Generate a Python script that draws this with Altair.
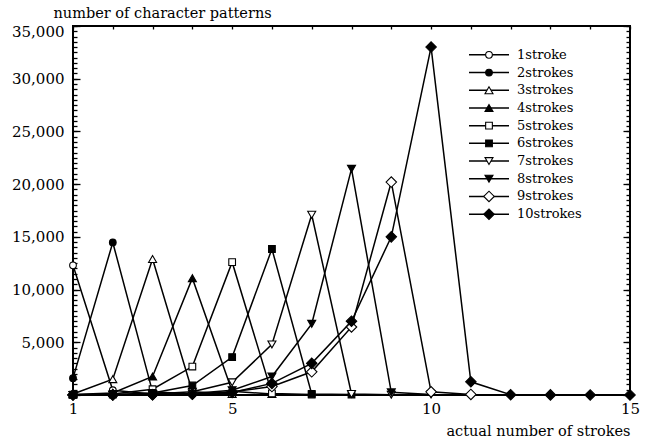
import altair as alt
import pandas as pd

# ---------------- data ----------------
names = ["1stroke", "2strokes", "3strokes", "4strokes", "5strokes",
         "6strokes", "7strokes", "8strokes", "9strokes", "10strokes"]

s1 = [12300, 450, 100]
s2 = [1600, 14470, 300, 100]
s3 = [100, 1500, 12900, 300, 100]
s4 = [50, 200, 1750, 11080, 350, 100]
s5 = [30, 100, 550, 2700, 12600, 150, 50]
s6 = [20, 50, 200, 900, 3600, 13850, 100, 50]
s7 = [10, 30, 100, 300, 1200, 4800, 17100, 100, 30]
s8 = [10, 20, 50, 150, 450, 1750, 6750, 21450, 250, 50]
s9 = [5, 10, 30, 100, 300, 800, 2200, 6450, 20200, 300, 50]
s10 = [5, 10, 30, 80, 250, 1100, 3000, 7000, 15000, 33000, 1250, 30, 10, 5, 5]
series_values = [s1, s2, s3, s4, s5, s6, s7, s8, s9, s10]

shapes = ["circle", "circle", "triangle-up", "triangle-up", "square", "square",
          "triangle-down", "triangle-down", "diamond", "diamond"]
fills = ["white", "black"] * 5
sizes = [45, 45, 64, 64, 45, 45, 64, 64, 110, 110]

x_label_values = [1, 5, 10, 15]
x_tick_values = list(range(1, 16))
y_label_values = [5000, 10000, 15000, 20000, 25000, 30000]
y_top_label = [35000]
y_major_values = list(range(0, 35001, 5000))
y_minor_values = list(range(0, 35001, 500))

rows = []
for name, vals in zip(names, series_values):
    for i, v in enumerate(vals):
        rows.append({"series": name, "x": i + 1, "count": v})
df = pd.DataFrame(rows)
leg_df = pd.DataFrame({"series": names})

FONT = "DejaVu Serif"
W, H = 557, 369

xscale = alt.Scale(domain=[1, 15], nice=False, zero=False)
yscale = alt.Scale(domain=[0, 35000], nice=False)

shape_enc = alt.Shape("series:N", scale=alt.Scale(domain=names, range=shapes), legend=None)
fill_enc = alt.Fill("series:N", scale=alt.Scale(domain=names, range=fills), legend=None)
size_enc = alt.Size("series:N", scale=alt.Scale(domain=names, range=sizes, type="ordinal"), legend=None)

base = alt.Chart(df)

lines = base.mark_line(color="black", strokeWidth=1.5).encode(
    x=alt.X("x:Q", scale=xscale, axis=alt.Axis(
        orient="bottom", values=x_label_values, format="d", ticks=False, domain=False,
        labelFontSize=15, labelPadding=6, labelFlush=False, labelBaseline="top",
        title="actual number of strokes", titleFontSize=14.5, titleFontWeight="normal",
        titleX=W, titleY=36, titleAlign="right", titleBaseline="middle")),
    y=alt.Y("count:Q", scale=yscale, axis=alt.Axis(
        orient="left", values=y_label_values, format=",.0f", ticks=False, domain=False,
        labelFontSize=15, labelPadding=9, labelBaseline="middle",
        title="number of character patterns", titleFontSize=14.5, titleFontWeight="normal",
        titleAngle=0, titleX=-20, titleY=-13, titleAlign="left", titleBaseline="middle")),
    detail="series:N",
    order="x:Q",
)

points = base.mark_point(filled=True, stroke="black", strokeWidth=1.1, opacity=1).encode(
    x=alt.X("x:Q", scale=xscale, axis=alt.Axis(
        orient="top", values=x_tick_values, tickSize=3, offset=-3, labels=False,
        domain=False, title=None)),
    y=alt.Y("count:Q", scale=yscale, axis=alt.Axis(
        orient="left", values=y_major_values, tickSize=7, offset=-7, labels=False,
        domain=False, title=None)),
    shape=shape_enc, fill=fill_enc, size=size_enc,
)

ticks_c = base.mark_line(opacity=0).encode(
    x=alt.X("x:Q", scale=xscale, axis=alt.Axis(
        orient="bottom", values=x_tick_values, tickSize=3, offset=-3, labels=False,
        domain=False, title=None)),
    y=alt.Y("count:Q", scale=yscale, axis=alt.Axis(
        orient="left", values=y_minor_values, tickSize=4, offset=-4, labels=False,
        domain=False, title=None)),
    detail="series:N",
)

ticks_d = base.mark_line(opacity=0).encode(
    x=alt.X("x:Q", scale=xscale, axis=None),
    y=alt.Y("count:Q", scale=yscale, axis=alt.Axis(
        orient="right", values=y_major_values, tickSize=7, offset=-7, labels=False,
        domain=False, title=None)),
    detail="series:N",
)

ticks_e = base.mark_line(opacity=0).encode(
    x=alt.X("x:Q", scale=xscale, axis=None),
    y=alt.Y("count:Q", scale=yscale, axis=alt.Axis(
        orient="right", values=y_minor_values, tickSize=4, offset=-4, labels=False,
        domain=False, title=None)),
    detail="series:N",
)

top_label = base.mark_line(opacity=0).encode(
    x=alt.X("x:Q", scale=xscale, axis=None),
    y=alt.Y("count:Q", scale=yscale, axis=alt.Axis(
        orient="left", values=y_top_label, format=",.0f", ticks=False, domain=False,
        labelFontSize=15, labelPadding=9, labelBaseline="middle", labelOffset=5,
        title=None)),
    detail="series:N",
)

main = alt.layer(lines, points, ticks_c, ticks_d, ticks_e, top_label).resolve_axis(
    x="independent", y="independent")

ly = alt.Y("series:N", scale=alt.Scale(domain=names, range=[20, 197], padding=0), axis=None)
lbase = alt.Chart(leg_df)
leg_rule = lbase.mark_rule(color="black", strokeWidth=1.5).encode(
    y=ly, x=alt.value(396), x2=alt.value(436))
leg_pts = lbase.mark_point(filled=True, stroke="black", strokeWidth=1.1, opacity=1).encode(
    y=ly, x=alt.value(416), shape=shape_enc, fill=fill_enc, size=size_enc)
leg_txt = lbase.mark_text(align="left", baseline="middle", font=FONT, fontSize=13,
                          color="black").encode(
    y=ly, x=alt.value(444), text="series:N")
legend = alt.layer(leg_rule, leg_pts, leg_txt)

chart = alt.layer(main, legend).resolve_scale(y="independent").properties(
    width=W, height=H,
    autosize=alt.AutoSizeParams(type="none"),
    padding={"left": 73, "top": 26, "right": 22, "bottom": 44},
).configure(font=FONT).configure_view(
    stroke="black", strokeWidth=2
).configure_axis(
    grid=False, labelFont=FONT, titleFont=FONT, labelColor="black", titleColor="black",
    tickColor="black", tickWidth=1.3,
)

chart.save("out.html", embed_options={"renderer": "svg", "actions": False})
